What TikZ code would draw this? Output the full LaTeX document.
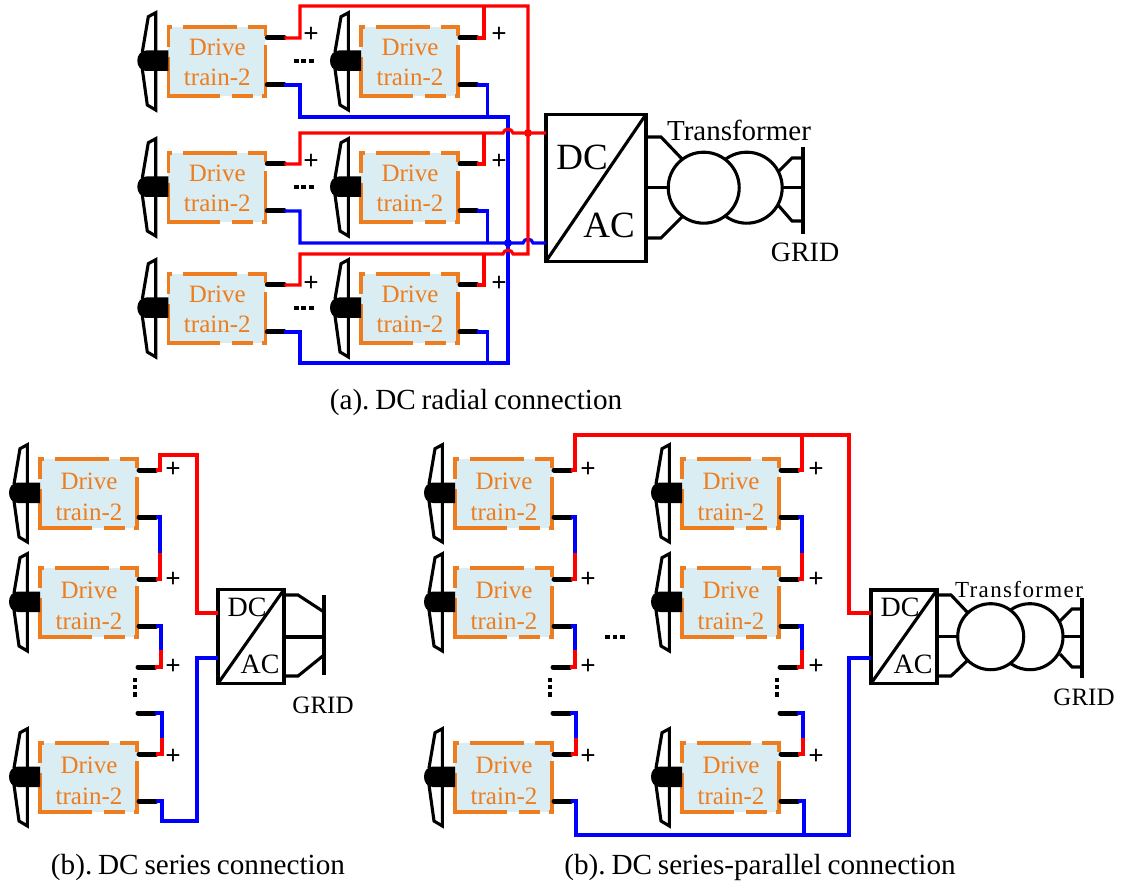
\documentclass[tikz,border=0pt]{standalone}
\usepackage{fontspec}
\setmainfont{Liberation Serif}
\newfontfamily\lsfont[LetterSpace=6]{Liberation Serif}
\definecolor{orng}{HTML}{ED7D1E}
\definecolor{boxfill}{HTML}{DAEDF3}
\definecolor{rd}{HTML}{FF0000}
\definecolor{bl}{HTML}{0000FF}
\newcommand{\fsz}[1]{\fontsize{#1}{#1}\selectfont\frenchspacing}
\newcommand{\capfont}{\fsz{29.2}\spaceskip=.2em\relax}
\newcommand{\trfont}{\lsfont\fsz{23}}
\newcommand{\tdy}{20}
\tikzset{
  txt/.style={inner sep=0pt,font=\fsz{#1}},
  captext/.style={inner sep=0pt,font=\capfont},
  plusm/.style={inner sep=0pt,font=\fsz{27}\bfseries,yshift=-2pt},
  redw/.style={draw=rd,line width=3.2pt,line join=miter},
  bluew/.style={draw=bl,line width=3.2pt,line join=miter},
  stub/.style={line width=5pt,line cap=round,black},
  blk/.style={draw=black,line width=3.1pt,line join=miter},
  conv/.style={draw=black,line width=3.1pt,fill=white,minimum width=#1,inner sep=0pt,outer sep=0pt,anchor=north west},
  drive/.pic={
    \fill[boxfill] (0,0) rectangle (97,69);
    \draw[orng,line width=3.2pt]
      (0,20) -- (0,0) -- (4,0) (15,0) -- (69,0) (80,0) -- (97,0) -- (97,9)
      (97,18) -- (97,69) -- (94,69) (85,69) -- (64,69) (52,69) -- (0,69) -- (0,30);
    \draw[black,line width=3.1pt,line join=miter] (-12.6,24) -- (-12.6,-14.3) -- (-20,-10.3) -- (-26,25)
      (-26,42) -- (-21,78) -- (-12.6,83) -- (-12.6,44);
    \fill[black] (0,23.5) -- (-22,23.5) .. controls (-34,23.5) and (-34,44) .. (-22,44) -- (0,44) -- cycle;
    \node[txt=25,text=orng] (-t1) at (49,\tdy) {Drive};
    \node[txt=25,text=orng] (-t2) at (49,\tdy+30.5) {train-2};
    \coordinate (-a) at (99,11);
    \coordinate (-p) at (116,11);
    \coordinate (-c) at (99,58);
    \coordinate (-n) at (116,58);
    \draw[stub] (-a) -- (-p);
    \draw[stub] (-c) -- (-n);
  }
}
\begin{document}
\begin{tikzpicture}[x=1pt,y=-1pt]
\useasboundingbox (0,0) rectangle (1121,882);
% ------- (a)
\pic (a1) at (168.3,27) {drive};
\pic (a2) at (361,27) {drive};
\pic (a3) at (168.3,153) {drive};
\pic (a4) at (361,153) {drive};
\pic (a5) at (168.3,274) {drive};
\pic (a6) at (361,274) {drive};
\coordinate (ra) at (528,6);
\coordinate (rb) at (528,133);
\coordinate (rc) at (528,254);
\coordinate (ba) at (508,117);
\coordinate (bb) at (508,243);
\coordinate (bc) at (508,363);
\node[conv=100pt,minimum height=147pt] (ca) at (546,114.3) {};
\draw[blk] (ca.south west) -- (ca.north east);
% blue
\draw[bluew] (a1-n) -- (300,85) -- (300,117) -- (ba) -- (bc) -- (300,363) -- (300,332) -- (a5-n);
\draw[bluew] (a2-n) -- (487.5,85) -- (487.5,117);
\draw[bluew] (a6-n) -- (487.5,332) -- (487.5,363);
\draw[bluew] (a3-n) -- (300,211) -- (300,243) -- (bb) -- (523,243) .. controls (524,238) and (532,238) .. (533,243) -- (ca.west |- bb);
\draw[bluew] (a4-n) -- (487.5,211) -- (487.5,243);
% red
\draw[redw] (a1-p) -- (300,38) -- (300,6) -- (ra) -- (rc) -- (513,254) .. controls (512,249) and (504,249) .. (503,254) -- (300,254) -- (300,285) -- (a5-p);
\draw[redw] (a2-p) -- (484,38) -- (484,6);
\draw[redw] (a6-p) -- (484,285) -- (484,254);
\draw[redw] (a3-p) -- (300,164) -- (300,133) -- (503,133) .. controls (504,128) and (512,128) .. (513,133) -- (rb) -- (ca.west |- rb);
\draw[redw] (a4-p) -- (484,164) -- (484,133);
\fill[rd] (rb) circle (4pt);
\fill[bl] (bb) circle (4pt);
\foreach \y in {61,187,308}{
  \draw[black,line width=3.1pt] (293.5,\y) -- (298.5,\y) (301,\y) -- (306,\y) (308.5,\y) -- (313.5,\y);
}
\node[plusm] (pa1) at (311,33) {+};
\node[plusm] (pa2) at (499,33) {+};
\node[plusm] (pa3) at (311,160) {+};
\node[plusm] (pa4) at (499,160) {+};
\node[plusm] (pa5) at (311,282) {+};
\node[plusm] (pa6) at (499,282) {+};
\node[txt=37] (dca) at (582,157) {DC};
\node[txt=37] (aca) at (609,225) {AC};
\draw[blk] (ca.east |- 0,137) -- (661,137) -- (683,160);
\draw[blk] (ca.east |- 0,187.7) -- (668,187.7);
\draw[blk] (ca.east |- 0,238) -- (661,238) -- (683,216);
\node[circle,draw=black,line width=3.1pt,minimum size=71pt,inner sep=0pt] (ta2) at (746.7,187.7) {};
\node[circle,draw=black,line width=3.1pt,fill=white,minimum size=71pt,inner sep=0pt] (ta1) at (703.7,187.7) {};
\draw[blk] (778,172) -- (792,158) -- (803,158);
\draw[blk] (782,187.7) -- (803,187.7);
\draw[blk] (778,205) -- (792,221) -- (803,221);
\draw[blk] (803,147) -- (803,234);
\node[txt=29] (tra) at (739,130) {Transformer};
\node[txt=28] (ga) at (805,252) {GRID};
\node[captext] (capa) at (476,402) {(a). DC radial connection};
% ------- (b)
\renewcommand{\tdy}{22.5}
\pic (b1) at (40,459) {drive};
\pic (b2) at (40,568) {drive};
\pic (b4) at (40,743) {drive};
\coordinate (b3a) at (138,667);
\coordinate (b3p) at (155,667);
\coordinate (b3c) at (138,713);
\coordinate (b3n) at (155,713);
\draw[stub] (b3a) -- (b3p);
\draw[stub] (b3c) -- (b3n);
\node[conv=66pt,minimum height=94pt] (cb) at (218,589.5) {};
\draw[blk] (cb.south west) -- (cb.north east);
\draw[redw] (b1-p) -- (160,470) -- (160,455) -- (197,455) -- (197,613) -- (cb.west |- 0,613);
\draw[bluew] (b1-n) -- (160,517) -- (160,553);
\draw[redw] (160,553) -- (160,579) -- (b2-p);
\draw[bluew] (b2-n) -- (161,626) -- (161,650);
\draw[redw] (161,650) -- (161,667) -- (b3p);
\draw[bluew] (b3n) -- (162,713) -- (162,738);
\draw[redw] (162,738) -- (162,754) -- (b4-p);
\draw[bluew] (b4-n) -- (162,801) -- (162,821) -- (197,821) -- (197,658) -- (cb.west |- 0,658);
\draw[black,line width=3.1pt] (135,678) -- (135,682) (135,685) -- (135,689) (135,692) -- (135,697);
\node[plusm] (pb1) at (173,468) {+};
\node[plusm] (pb2) at (173,578) {+};
\node[plusm] (pb3) at (173,665) {+};
\node[plusm] (pb4) at (173,755) {+};
\node[txt=28] (dcb) at (247,607) {DC};
\node[txt=28] (acb) at (260,664) {AC};
\draw[blk] (cb.east |- 0,595) -- (298,595) -- (324,612);
\draw[blk] (cb.east |- 0,637) -- (324,637);
\draw[blk] (cb.east |- 0,676) -- (298,676) -- (324,655);
\draw[blk] (324,595) -- (324,675);
\node[txt=25] (gb) at (323,705) {GRID};
\node[captext] (capb) at (198,867) {(b). DC series connection};
% ------- (c)
\pic (c1) at (455,459) {drive};
\pic (c2) at (455,568) {drive};
\pic (c4) at (455,743) {drive};
\pic (d1) at (682,459) {drive};
\pic (d2) at (682,568) {drive};
\pic (d4) at (682,743) {drive};
\foreach \n/\x in {c/553,d/780}{
  \coordinate (\n3a) at (\x,667);
  \coordinate (\n3p) at (\x+17,667);
  \coordinate (\n3c) at (\x,713);
  \coordinate (\n3n) at (\x+17,713);
  \draw[stub] (\n3a) -- (\n3p);
  \draw[stub] (\n3c) -- (\n3n);
  \draw[black,line width=3.1pt] (\x-3,678) -- (\x-3,682) (\x-3,685) -- (\x-3,689) (\x-3,692) -- (\x-3,697);
}
\node[conv=66pt,minimum height=93.5pt] (cc) at (871,590) {};
\draw[blk] (cc.south west) -- (cc.north east);
\draw[redw] (c1-p) -- (575,470) -- (575,435) -- (849,435) -- (849,613) -- (cc.west |- 0,613);
\draw[redw] (d1-p) -- (802,470) -- (802,435);
\foreach \n/\x in {c/575,d/802}{
  \draw[bluew] (\n1-n) -- (\x,517) -- (\x,553);
  \draw[redw] (\x,553) -- (\x,579) -- (\n2-p);
  \draw[bluew] (\n2-n) -- (\x,626) -- (\x,650);
  \draw[redw] (\x,650) -- (\x,667) -- (\n3p);
  \draw[bluew] (\n3n) -- (\x+1,713) -- (\x+1,738);
  \draw[redw] (\x+1,738) -- (\x+1,754) -- (\n4-p);
}
\draw[bluew] (c4-n) -- (576,801) -- (576,835) -- (849,835) -- (849,658) -- (cc.west |- 0,658);
\draw[bluew] (d4-n) -- (804,801) -- (804,835);
\foreach \i/\x/\y in {1/588/468,2/588/578,3/588/665,4/588/755,5/816/468,6/816/578,7/816/665,8/816/755}{
  \node[plusm] (pc\i) at (\x,\y) {+};
}
\draw[black,line width=3.1pt] (605,637) -- (609.5,637) (612.5,637) -- (617,637) (620,637) -- (624.5,637);
\node[txt=28] (dcc) at (900,607) {DC};
\node[txt=28] (acc) at (913,664) {AC};
\draw[blk] (cc.east |- 0,595) -- (951,595) -- (968,613);
\draw[blk] (cc.east |- 0,636.7) -- (958,636.7);
\draw[blk] (cc.east |- 0,676) -- (951,676) -- (968,660);
\node[circle,draw=black,line width=3.1pt,minimum size=66pt,inner sep=0pt] (tc2) at (1030,636.7) {};
\node[circle,draw=black,line width=3.1pt,fill=white,minimum size=66pt,inner sep=0pt] (tc1) at (990.7,636.7) {};
\draw[blk] (1060,621) -- (1072,609) -- (1082,609);
\draw[blk] (1063,636.7) -- (1082,636.7);
\draw[blk] (1060,654) -- (1072,667) -- (1082,667);
\draw[blk] (1082,598) -- (1082,678);
\node[inner sep=0pt,font=\trfont] (trc) at (1019,590) {Transformer};
\node[txt=25] (gc) at (1084,697) {GRID};
\node[captext] (capc) at (760,867) {(b). DC series-parallel connection};
\end{tikzpicture}
\end{document}
